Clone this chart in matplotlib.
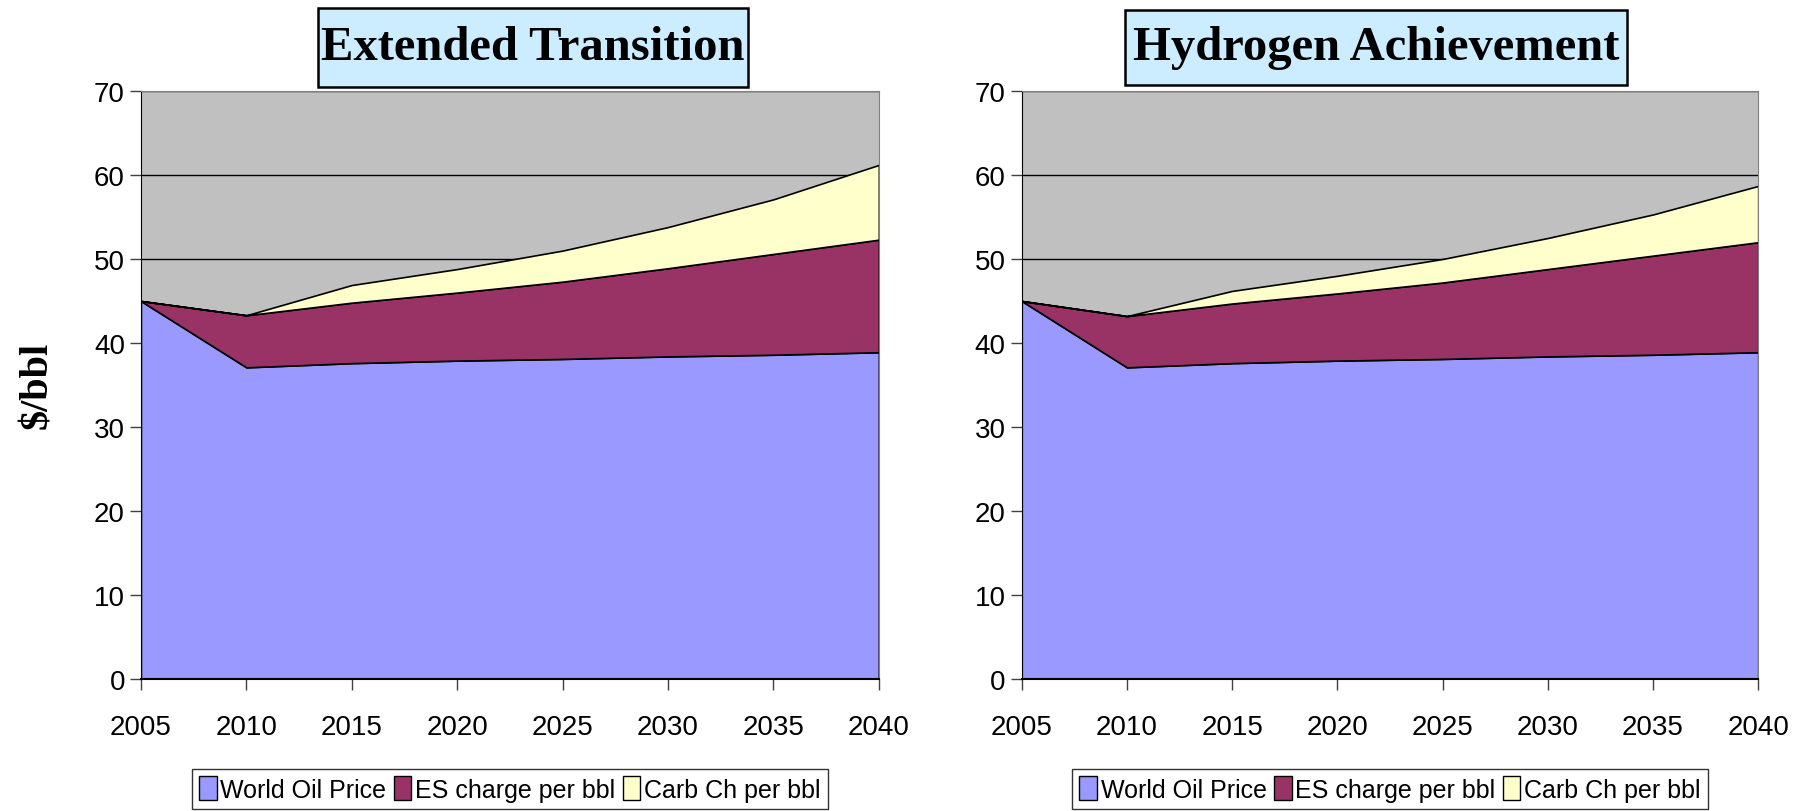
import numpy as np
import matplotlib
matplotlib.use("Agg")
import matplotlib.pyplot as plt
from matplotlib.patches import Patch, Rectangle

years = [2005, 2010, 2015, 2020, 2025, 2030, 2035, 2040]
series_names = ['World Oil Price', 'ES charge per bbl', 'Carb Ch per bbl']

# Extended Transition (stack components)
et_oil = [45.0, 37.1, 37.6, 37.9, 38.1, 38.4, 38.6, 38.9]
et_es = [0.0, 6.2, 7.2, 8.1, 9.2, 10.5, 12.0, 13.4]
et_carb = [0.0, 0.0, 2.1, 2.8, 3.7, 4.9, 6.5, 8.9]

# Hydrogen Achievement (stack components)
ha_oil = [45.0, 37.1, 37.6, 37.9, 38.1, 38.4, 38.6, 38.9]
ha_es = [0.0, 6.1, 7.1, 8.0, 9.1, 10.4, 11.8, 13.1]
ha_carb = [0.0, 0.0, 1.5, 2.1, 2.8, 3.7, 4.9, 6.7]

colors = ['#9999FF', '#993366', '#FFFFCC']
tick_font = ['Liberation Sans Narrow', 'Liberation Sans', 'DejaVu Sans']
serif_font = ['Liberation Serif', 'DejaVu Serif']

W, H = 1802, 812
fig = plt.figure(figsize=(W / 100, H / 100), dpi=100)


def draw_panel(rect, title, box_px, stacks):
    ax = fig.add_axes(rect)
    ax.set_facecolor('#C0C0C0')
    x = np.array(years)
    ax.stackplot(x, *stacks, colors=colors, edgecolor='black', linewidth=1.2, zorder=2)
    ax.set_xlim(2005, 2040)
    ax.set_ylim(0, 70)
    ax.set_yticks(range(0, 71, 10))
    ax.set_xticks(years)
    ax.grid(axis='y', color='black', linewidth=1.0, zorder=1)
    ax.set_axisbelow(True)
    for s in ['top', 'right']:
        ax.spines[s].set_color('#808080')
    ax.spines['left'].set_color('black')
    ax.spines['bottom'].set_color('black')
    ax.spines['bottom'].set_linewidth(1.5)
    ax.spines['bottom'].set_zorder(3)
    ax.tick_params(axis='both', direction='out', length=8, width=1, color='#404040',
                   labelsize=20)
    ax.tick_params(axis='x', pad=17)
    for lbl in ax.get_xticklabels() + ax.get_yticklabels():
        lbl.set_family(tick_font)

    # title box
    x0, x1, y0, y1 = box_px
    fig.patches.append(Rectangle((x0 / W, 1 - y1 / H), (x1 - x0) / W, (y1 - y0) / H,
                                 transform=fig.transFigure, facecolor='#CCECFF',
                                 edgecolor='black', linewidth=1.8))
    fig.text((x0 + x1) / 2 / W, 1 - (y0 + y1) / 2 / H, title, ha='center', va='center',
             fontsize=35, fontweight='bold', family=serif_font)

    handles = [Patch(facecolor=c, edgecolor='black', label=n) for c, n in zip(colors, series_names)]
    leg = fig.legend(handles=handles, loc='upper center', ncol=3,
                     bbox_to_anchor=(rect[0] + rect[2] / 2, 0.052), borderaxespad=0,
                     prop={'family': tick_font, 'size': 18}, frameon=True, fancybox=False,
                     handlelength=0.7, handleheight=1.1, handletextpad=0.15, columnspacing=0.3,
                     borderpad=0.3, edgecolor='black')
    leg.get_frame().set_linewidth(1.0)
    return ax


ax1 = draw_panel([0.0782, 0.1626, 0.4095, 0.7241], 'Extended Transition', (318, 748, 9, 88),
                 [et_oil, et_es, et_carb])
ax2 = draw_panel([0.567, 0.1626, 0.4087, 0.7241], 'Hydrogen Achievement', (1125, 1627, 11, 86),
                 [ha_oil, ha_es, ha_carb])

fig.text(0.021, 0.525, '$/bbl', rotation=90, ha='center', va='center', fontsize=29,
         fontweight='bold', family=serif_font)

fig.savefig('out.png', dpi=100)
